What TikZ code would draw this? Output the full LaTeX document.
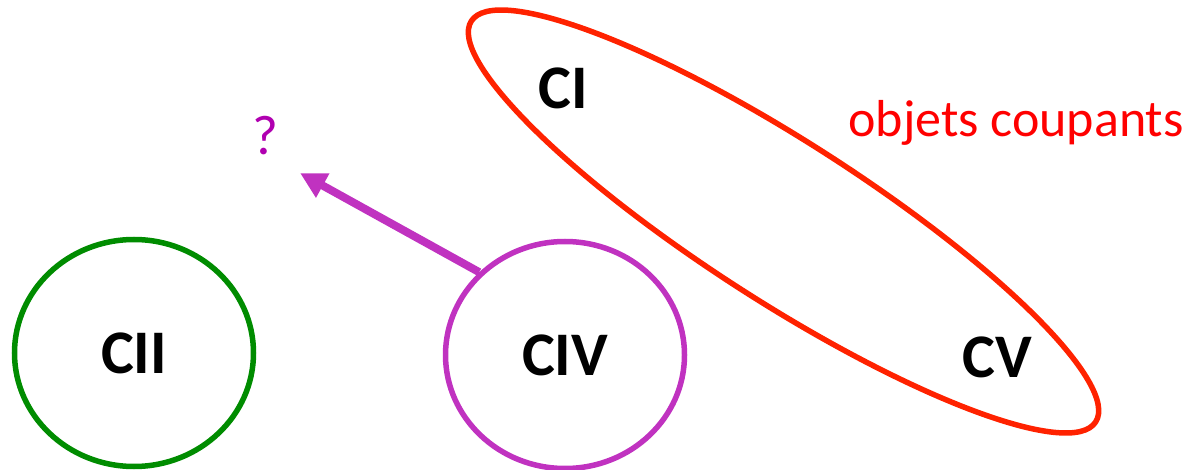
\documentclass[tikz,border=0pt]{standalone}
\usepackage{fontspec}
\setmainfont{Carlito}
\usepackage{xcolor}
\usetikzlibrary{arrows.meta, shapes.geometric}

\definecolor{vertcercle}{RGB}{0,140,0}
\definecolor{violet}{RGB}{192,50,192}
\definecolor{magenta2}{RGB}{176,0,176}
\definecolor{rougegroupe}{RGB}{255,34,0}

\begin{document}
\begin{tikzpicture}[
    x=1pt, y=1pt,
    cercle/.style={
        ellipse,
        draw,
        line width=5.5pt,
        minimum width=239pt,
        minimum height=227pt,
        font=\fontsize{62}{62}\selectfont\bfseries
    },
    etiquette/.style={font=\fontsize{62}{62}\selectfont\bfseries},
    fleche/.style={-{Triangle[length=26pt, width=26pt]}, line width=8pt, violet}
]
\useasboundingbox (0,0) rectangle (1194,469);

\node[cercle, draw=vertcercle] (cii) at (134,116) {CII};
\node[cercle, draw=violet] (civ) at (565,114) {CIV};

% objets coupants
\node[ellipse, draw=rougegroupe, line width=5.5pt, rotate=-32.7,
      minimum width=742pt, minimum height=160pt, inner sep=0pt] (groupe) at (783.5,247.5) {};
\node[etiquette] (ci) at (563,381) {CI};
\node[etiquette] (cv) at (997,112) {CV};
\node[anchor=base, text=red, font=\fontsize{52}{52}\selectfont] (coupants) at (1016,332) {objets coupants};

\node[text=magenta2, font=\fontsize{56}{56}\selectfont] (question) at (265,333) {?};
\coordinate (pointe) at (300,296);

\draw[fleche] (civ.136) -- (pointe);

\end{tikzpicture}
\end{document}
